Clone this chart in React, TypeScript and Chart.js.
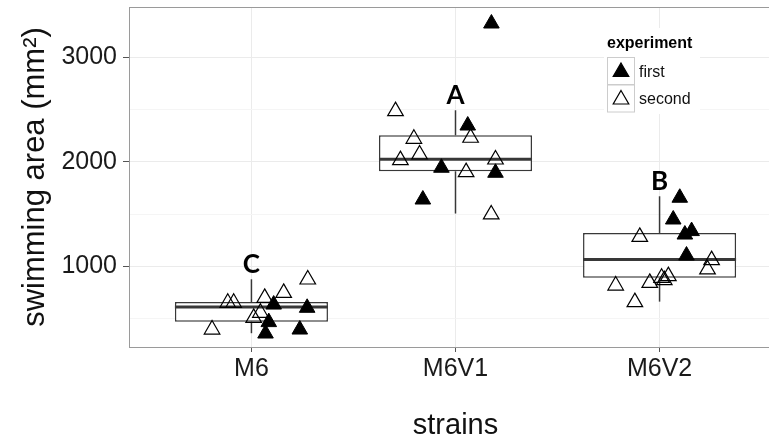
import React, { useEffect, useRef } from 'react';
import { Chart, registerables } from 'chart.js';

Chart.register(...registerables);

// ---------- data ----------
const categories = ['M6', 'M6V1', 'M6V2'];
const categoryPositions = [1, 2, 3];
const groupLetters = ['C', 'A', 'B'];
const letterValues = [933, 2550, 1727];

// box statistics per strain
const boxLower = [470, 1909, 890];
const boxMedian = [611, 2024, 1066];
const boxUpper = [658, 2254, 1319];
const whiskerLow = [360, 1505, 662];
const whiskerHigh = [876, 2493, 1670];

// experiment "first" (filled triangles), jittered positions
const firstX = [1.109, 1.273, 1.085, 1.069, 1.237, 2.176, 2.06, 1.931, 2.196, 1.84, 3.099, 3.067, 3.157, 3.124, 3.132];
const firstY = [634, 603, 466, 357, 395, 3323, 2347, 1943, 1895, 1639, 1656, 1448, 1337, 1304, 1103];

// experiment "second" (open triangles), jittered positions
const secondX = [0.807, 0.884, 0.913, 1.065, 1.158, 1.276, 1.011, 1.044, 1.706, 1.796, 1.824, 1.73, 2.074, 2.052, 2.196, 2.175, 2.903, 3.255, 3.235, 2.785, 2.952, 3.01, 3.043, 3.023, 2.879];
const secondY = [395, 651, 651, 698, 746, 874, 507, 555, 2485, 2220, 2070, 2016, 2230, 1901, 2022, 1496, 1282, 1059, 970, 816, 842, 890, 906, 868, 657];

const yMajorTicks = [1000, 2000, 3000];
const yMinorTicks = [500, 1500, 2500];
const yRange = [228, 3481];
const xRange = [0.4, 3.6];

const legendTitle = 'experiment';
const legendLabels = ['first', 'second'];
const yTitle = 'swimming area (mm²)';
const xTitle = 'strains';

// ---------- styling ----------
const CANVAS_W = 800;
const CANVAS_H = 450;
const BOX_WIDTH = 0.75;
const FONT = '"Liberation Sans", Arial, sans-serif';
const BOX_COLOR = '#383838';

function drawTriangle(ctx: CanvasRenderingContext2D, x: number, y: number, r: number, filled: boolean) {
  ctx.beginPath();
  let rad = 0;
  ctx.moveTo(x + Math.sin(rad) * r, y - Math.cos(rad) * r);
  rad += (2 * Math.PI) / 3;
  ctx.lineTo(x + Math.sin(rad) * r, y - Math.cos(rad) * r);
  rad += (2 * Math.PI) / 3;
  ctx.lineTo(x + Math.sin(rad) * r, y - Math.cos(rad) * r);
  ctx.closePath();
  if (filled) {
    ctx.fillStyle = '#000';
    ctx.fill();
  }
  ctx.strokeStyle = '#000';
  ctx.lineWidth = 1.2;
  ctx.stroke();
}

const overlayPlugin = {
  id: 'overlay',
  afterDatasetsDraw(chart: any) {
    const { ctx, scales } = chart;
    ctx.save();
    ctx.font = 'bold 26px Lato, "Liberation Sans", sans-serif';
    ctx.fillStyle = '#000';
    ctx.textAlign = 'center';
    ctx.textBaseline = 'alphabetic';
    groupLetters.forEach((l, i) => {
      ctx.fillText(l, scales.x.getPixelForValue(categoryPositions[i]), scales.y.getPixelForValue(letterValues[i]));
    });
    ctx.restore();
  },
  afterDraw(chart: any) {
    const { ctx, chartArea } = chart;
    ctx.save();
    // panel border
    ctx.strokeStyle = '#9a9a9a';
    ctx.lineWidth = 1;
    ctx.strokeRect(chartArea.left + 0.5, chartArea.top + 0.5, chartArea.right - chartArea.left, chartArea.bottom - chartArea.top);
    // legend
    ctx.fillStyle = '#fff';
    ctx.fillRect(604, 28, 96, 86);
    ctx.fillStyle = '#000';
    ctx.textAlign = 'left';
    ctx.textBaseline = 'alphabetic';
    ctx.font = `bold 16px ${FONT}`;
    ctx.fillText(legendTitle, 607, 48);
    legendLabels.forEach((label, i) => {
      const y0 = 57 + i * 27.5;
      ctx.strokeStyle = '#cccccc';
      ctx.lineWidth = 1;
      ctx.strokeRect(607.5, y0 + 0.5, 27, 27);
      drawTriangle(ctx, 621, y0 + 15, 9, i === 0);
      ctx.fillStyle = '#111';
      ctx.font = `16px ${FONT}`;
      ctx.fillText(label, 639, y0 + 19.5);
    });
    ctx.restore();
  },
};

export default function App() {
  const ref = useRef<HTMLCanvasElement>(null);

  useEffect(() => {
    const boxData = categoryPositions.map((x, i) => ({ x, y: [boxLower[i], boxUpper[i]] }));
    const lineStyle = {
      type: 'scatter' as const,
      showLine: true,
      pointRadius: 0,
      borderColor: BOX_COLOR,
      borderWidth: 1.5,
      fill: false,
      order: 2,
    };
    const whiskerSets = categoryPositions.flatMap((x, i) => [
      { ...lineStyle, data: [{ x, y: boxUpper[i] }, { x, y: whiskerHigh[i] }] },
      { ...lineStyle, data: [{ x, y: whiskerLow[i] }, { x, y: boxLower[i] }] },
    ]);
    const medianSets = categoryPositions.map((x, i) => ({
      ...lineStyle,
      borderWidth: 3,
      order: 1,
      data: [
        { x: x - BOX_WIDTH / 2, y: boxMedian[i] },
        { x: x + BOX_WIDTH / 2, y: boxMedian[i] },
      ],
    }));

    const chart = new Chart(ref.current!, {
      type: 'scatter',
      data: {
        datasets: [
          {
            type: 'scatter',
            label: 'first',
            data: firstX.map((x, i) => ({ x, y: firstY[i] })),
            pointStyle: 'triangle',
            pointRadius: 9,
            backgroundColor: '#000',
            borderColor: '#000',
            borderWidth: 1,
            order: 0,
          },
          {
            type: 'scatter',
            label: 'second',
            data: secondX.map((x, i) => ({ x, y: secondY[i] })),
            pointStyle: 'triangle',
            pointRadius: 9,
            backgroundColor: 'rgba(0,0,0,0)',
            borderColor: '#000',
            borderWidth: 1.2,
            order: 0,
          },
          ...medianSets,
          ...whiskerSets,
          {
            type: 'bar',
            label: 'box',
            data: boxData as any,
            backgroundColor: '#fff',
            borderColor: BOX_COLOR,
            borderWidth: 1.5,
            borderSkipped: false,
            barPercentage: BOX_WIDTH,
            categoryPercentage: 1,
            order: 3,
          } as any,
        ] as any,
      },
      options: {
        responsive: false,
        animation: false,
        events: [],
        layout: { autoPadding: false, padding: { left: 0, top: 7, right: 18, bottom: 0 } },
        plugins: {
          legend: { display: false },
          tooltip: { enabled: false },
        },
        scales: {
          x: {
            type: 'linear',
            offset: false,
            min: xRange[0],
            max: xRange[1],
            afterBuildTicks: (s: any) => {
              s.ticks = categoryPositions.map((v) => ({ value: v }));
            },
            afterFit: (s: any) => {
              s.height = CANVAS_H - 347;
              s.paddingLeft = 0;
              s.paddingRight = 0;
            },
            ticks: {
              callback: (v: any) => categories[categoryPositions.indexOf(Number(v))] ?? '',
              font: { family: FONT, size: 25 },
              color: '#1a1a1a',
              padding: 2,
              maxRotation: 0,
              autoSkip: false,
            },
            grid: {
              offset: false,
              color: '#ebebeb',
              lineWidth: 1,
              drawTicks: true,
              tickLength: 5,
              tickColor: '#555',
            },
            border: { display: false },
            title: {
              display: true,
              text: xTitle,
              font: { family: FONT, size: 29 },
              color: '#111',
              padding: { top: 0, bottom: 7 },
            },
          },
          y: {
            type: 'linear',
            min: yRange[0],
            max: yRange[1],
            afterBuildTicks: (s: any) => {
              s.ticks = [...yMinorTicks, ...yMajorTicks].sort((a, b) => a - b).map((v) => ({ value: v }));
            },
            afterFit: (s: any) => {
              s.width = 129;
              s.paddingTop = 0;
              s.paddingBottom = 0;
            },
            ticks: {
              callback: (v: any) => (yMajorTicks.includes(Number(v)) ? String(v) : ''),
              font: { family: FONT, size: 25 },
              color: '#1a1a1a',
              padding: 6,
              autoSkip: false,
            },
            grid: {
              color: (c: any) => (yMajorTicks.includes(c.tick?.value) ? '#ebebeb' : '#f5f5f5'),
              lineWidth: 1,
              drawTicks: true,
              tickLength: 6,
              tickColor: (c: any) => (yMajorTicks.includes(c.tick?.value) ? '#555' : 'rgba(0,0,0,0)'),
            },
            border: { display: false },
            title: {
              display: true,
              text: yTitle,
              font: { family: FONT, size: 31 },
              color: '#111',
              padding: { top: 17, bottom: 0 },
            },
          },
        },
      } as any,
      plugins: [overlayPlugin],
    });
    return () => chart.destroy();
  }, []);

  return (
    <div style={{ position: 'fixed', left: 0, top: 0, width: 769, height: 438, overflow: 'hidden', background: '#fff' }}>
      <canvas ref={ref} width={CANVAS_W} height={CANVAS_H} style={{ display: 'block', width: CANVAS_W, height: CANVAS_H }} />
    </div>
  );
}
